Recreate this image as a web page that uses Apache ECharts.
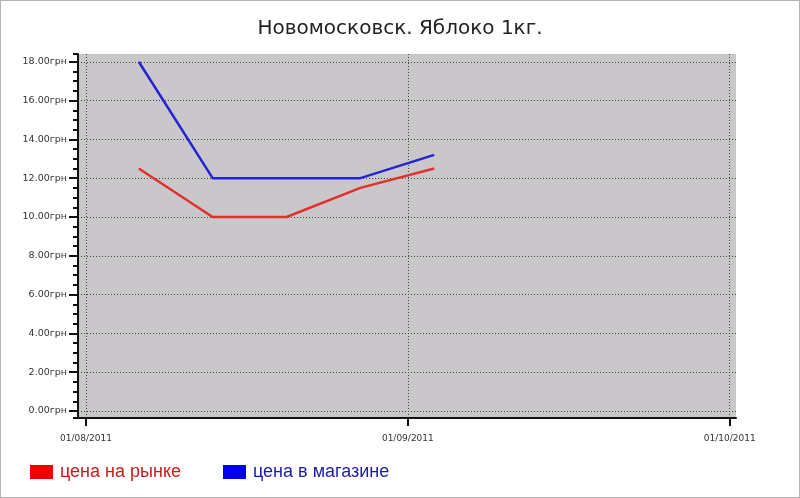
<!DOCTYPE html>
<html>
<head>
<meta charset="utf-8">
<script src="https://cdn.jsdelivr.net/npm/echarts@6/dist/echarts.min.js"></script>
<style>
html,body{margin:0;padding:0;background:#fff;}
#wrap{position:relative;width:800px;height:498px;}
#chart{position:absolute;left:0;top:0;width:800px;height:498px;}
#frame{position:absolute;left:0;top:0;width:800px;height:498px;box-sizing:border-box;border:1px solid #b4b4b4;pointer-events:none;}
</style>
</head>
<body>
<div id="wrap"><div id="chart"></div><div id="frame"></div></div>
<script>
// ---- data ----
const titleText = 'Новомосковск. Яблоко 1кг.';
const dates = ['2011-08-06', '2011-08-13', '2011-08-20', '2011-08-27', '2011-09-03'];
const marketName = 'цена на рынке';
const storeName = 'цена в магазине';
const marketPrices = [12.5, 10.0, 10.0, 11.5, 12.5];
const storePrices = [18.0, 12.0, 12.0, 12.0, 13.2];
const xTickLabels = ['01/08/2011', '01/09/2011', '01/10/2011'];
const xTickDays = [0, 30.5, 61];
const yTicks = [0, 2, 4, 6, 8, 10, 12, 14, 16, 18];
const yUnit = 'грн';

// ---- helpers ----
const origin = Date.UTC(2011, 7, 1);
function dayOffset(s) {
  const p = s.split('-').map(Number);
  return (Date.UTC(p[0], p[1] - 1, p[2]) - origin) / 86400000;
}
const marketData = dates.map((d, i) => [dayOffset(d), marketPrices[i]]);
const storeData = dates.map((d, i) => [dayOffset(d), storePrices[i]]);

const Y_MIN = -0.36, Y_MAX = 18.4;
const X_MIN = -0.76, X_MAX = 61.6;
const labelFont = 'DejaVu Sans';

const chart = echarts.init(document.getElementById('chart'), null, {renderer: 'canvas'});
chart.setOption({
  animation: false,
  backgroundColor: '#ffffff',
  title: {
    text: titleText,
    left: 'center',
    top: 14,
    textStyle: {fontFamily: 'DejaVu Sans', fontSize: 20, fontWeight: 'normal', color: '#222'}
  },
  legend: {
    left: 25,
    top: 458,
    itemWidth: 23,
    itemHeight: 14,
    itemGap: 42,
    icon: 'rect',
    textStyle: {fontFamily: 'Liberation Sans', fontSize: 18, padding: [0, 0, 0, 2]},
    data: [
      {name: marketName, itemStyle: {color: '#f00000'}, textStyle: {color: '#cc1a1a'}},
      {name: storeName, itemStyle: {color: '#0000f0'}, textStyle: {color: '#1c1ca8'}}
    ]
  },
  grid: {
    left: 78, right: 64, top: 54, bottom: 80,
    show: true, backgroundColor: '#c9c7ca', borderWidth: 0
  },
  xAxis: {
    type: 'value',
    min: X_MIN, max: X_MAX,
    splitNumber: 2, minInterval: 30.5, maxInterval: 30.5,
    axisLine: {show: true, onZero: false, lineStyle: {color: '#111', width: 2}},
    axisTick: {show: true, length: 8, lineStyle: {color: '#111', width: 2}, customValues: xTickDays},
    axisLabel: {
      show: true, margin: 16, color: '#333', fontFamily: labelFont, fontSize: 9,
      customValues: xTickDays,
      formatter: function (v) {
        const i = xTickDays.findIndex(t => Math.abs(t - v) < 0.01);
        return i >= 0 ? xTickLabels[i] : '';
      }
    },
    splitLine: {show: true, lineStyle: {color: '#444', type: [1, 2], width: 1}}
  },
  yAxis: [
    {
      type: 'value',
      position: 'left',
      min: Y_MIN, max: Y_MAX,
      splitNumber: 9, minInterval: 2, maxInterval: 2,
      axisLine: {show: true, onZero: false, lineStyle: {color: '#111', width: 2}},
      axisTick: {show: true, length: 9, lineStyle: {color: '#111', width: 2}, customValues: yTicks},
      axisLabel: {
        show: true, margin: 11, color: '#333', fontFamily: labelFont, fontSize: 9.5,
        customValues: yTicks,
        formatter: function (v) {
          return yTicks.some(t => Math.abs(t - v) < 0.001) ? v.toFixed(2) + yUnit : '';
        }
      },
      splitLine: {show: true, lineStyle: {color: '#444', type: [1, 2], width: 1}}
    },
    {
      type: 'value',
      position: 'left',
      min: Y_MIN, max: Y_MAX,
      splitNumber: 37, minInterval: 0.5, maxInterval: 0.5,
      axisLine: {show: false, onZero: false},
      axisTick: {show: true, length: 5, lineStyle: {color: '#111', width: 2}},
      axisLabel: {show: false},
      splitLine: {show: false}
    }
  ],
  series: [
    {
      name: marketName, type: 'line', data: marketData, yAxisIndex: 0,
      showSymbol: false, symbol: 'none',
      lineStyle: {color: '#e2302c', width: 2.5},
      itemStyle: {color: '#f00000'}
    },
    {
      name: storeName, type: 'line', data: storeData, yAxisIndex: 0,
      showSymbol: false, symbol: 'none',
      lineStyle: {color: '#2424d4', width: 2.5},
      itemStyle: {color: '#0000f0'}
    }
  ]
});
</script>
</body>
</html>
